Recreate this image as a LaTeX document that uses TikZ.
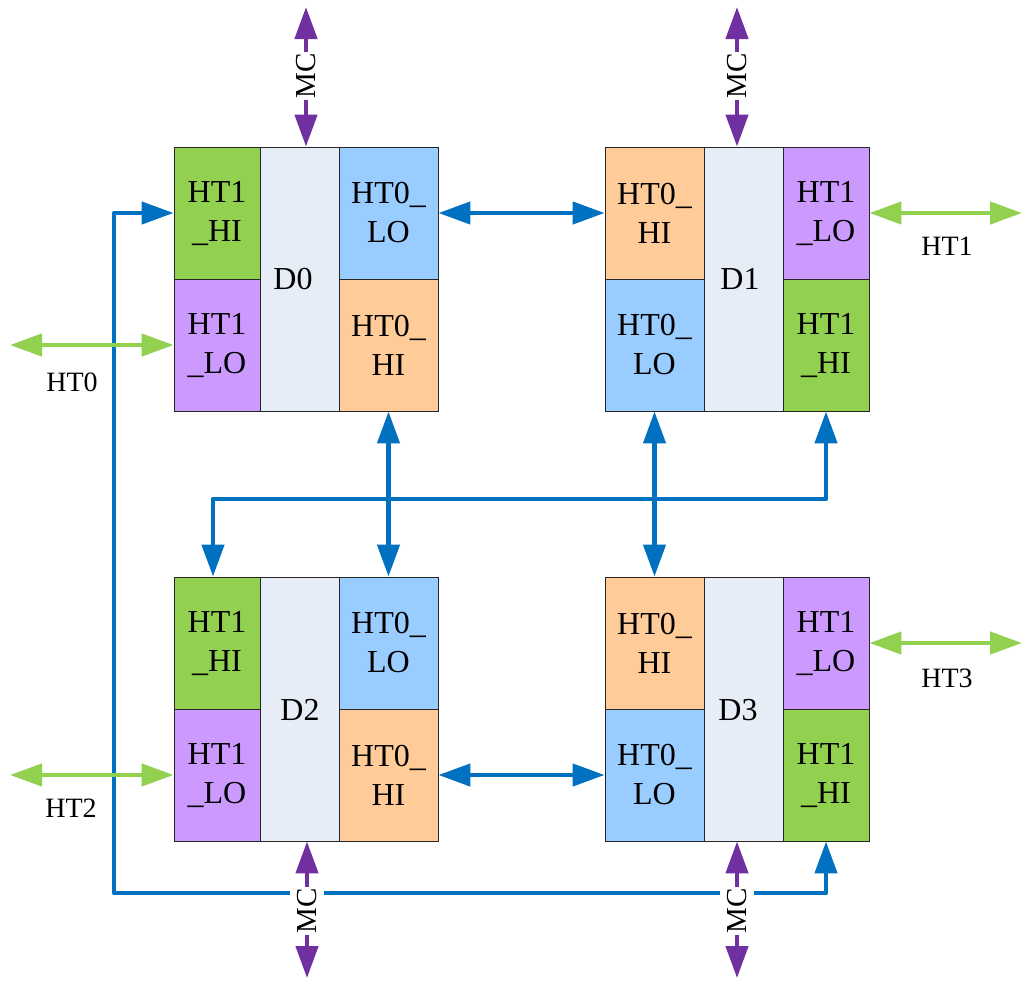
\documentclass[tikz,border=0pt]{standalone}
\usepackage{fontspec}
\setmainfont{Liberation Serif}
\usetikzlibrary{arrows.meta,calc}
\definecolor{cgreen}{HTML}{92D050}
\definecolor{cpurple}{HTML}{CC99FF}
\definecolor{cblue}{HTML}{99CCFF}
\definecolor{corange}{HTML}{FFCC99}
\definecolor{cmid}{HTML}{E7EDF7}
\definecolor{lblue}{HTML}{0070C0}
\definecolor{lpurple}{HTML}{7030A0}
\definecolor{lgreen}{HTML}{92D050}
\begin{document}
\begin{tikzpicture}[x=1pt,y=-1pt,
  cellbase/.style={draw=black!85, line width=0.9pt, inner sep=0pt, align=center,
    font=\fontsize{32}{39}\selectfont, minimum height=132pt},
  narrowcell/.style={cellbase, minimum width=86pt},
  widecell/.style={cellbase, minimum width=99pt},
  midcell/.style={draw=black!85, line width=0.9pt, inner sep=0pt, fill=cmid,
    minimum width=79pt, minimum height=264pt},
  dlabel/.style={font=\fontsize{32}{36}\selectfont, inner sep=0pt},
  extlabel/.style={font=\fontsize{28}{32}\selectfont, inner sep=0pt},
  mclabel/.style={font=\fontsize{29}{32}\selectfont, rotate=90, fill=white,
    inner xsep=1pt, inner ysep=7pt},
  tip/.tip={Triangle[length=32pt,width=22pt]},
  bus/.style={draw=lblue, line width=4.5pt, line join=round, tip-tip},
  gbus/.style={draw=lgreen, line width=4.5pt, tip-tip},
  pbus/.style={draw=lpurple, line width=4.5pt, tip-tip}]
\useasboundingbox (0,0) rectangle (1024,980);
\fill[white] (0,0) rectangle (1024,980);

% ---------- D0 ----------
\node[narrowcell, fill=cgreen]  (d0a) at (217,213) {HT1\\\_HI};
\node[narrowcell, fill=cpurple] (d0b) at (217,345) {HT1\\\_LO};
\node[midcell] (d0m) at (299.5,279) {};
\node[widecell, fill=cblue]   (d0c) at (388.5,213) {HT0\_\\LO};
\node[widecell, fill=corange] (d0d) at (388.5,345) {HT0\_\\HI};
\node[dlabel] (d0l) at (293,279) {D0};

% ---------- D1 ----------
\node[widecell, fill=corange] (d1a) at (654.5,213) {HT0\_\\HI};
\node[widecell, fill=cblue]   (d1b) at (654.5,345) {HT0\_\\LO};
\node[midcell] (d1m) at (743.5,279) {};
\node[narrowcell, fill=cpurple] (d1c) at (826,213) {HT1\\\_LO};
\node[narrowcell, fill=cgreen]  (d1d) at (826,345) {HT1\\\_HI};
\node[dlabel] (d1l) at (740,279) {D1};

% ---------- D2 ----------
\node[narrowcell, fill=cgreen]  (d2a) at (217,643) {HT1\\\_HI};
\node[narrowcell, fill=cpurple] (d2b) at (217,775) {HT1\\\_LO};
\node[midcell] (d2m) at (299.5,709) {};
\node[widecell, fill=cblue]   (d2c) at (388.5,643) {HT0\_\\LO};
\node[widecell, fill=corange] (d2d) at (388.5,775) {HT0\_\\HI};
\node[dlabel] (d2l) at (300,710) {D2};

% ---------- D3 ----------
\node[widecell, fill=corange] (d3a) at (654.5,643) {HT0\_\\HI};
\node[widecell, fill=cblue]   (d3b) at (654.5,775) {HT0\_\\LO};
\node[midcell] (d3m) at (743.5,709) {};
\node[narrowcell, fill=cpurple] (d3c) at (826,643) {HT1\\\_LO};
\node[narrowcell, fill=cgreen]  (d3d) at (826,775) {HT1\\\_HI};
\node[dlabel] (d3l) at (738,710) {D3};

% ---------- blue links ----------
\draw[bus] (d0c.east) -- (d1a.west);
\draw[bus] (d2d.east) -- (d3b.west);
\draw[bus] (d0d.south) -- (d2c.north);
\draw[bus] (d1b.south) -- (d3a.north);
\coordinate (jl) at (213,499);
\coordinate (jr) at (826,499);
\draw[bus] (jl |- d2a.north) -- (jl) -- (jr) -- (d1d.south);
\coordinate (lt) at (114,213);
\coordinate (lb) at (114,893);
\draw[bus] (d0a.west) -- (lt) -- (lb) -- (lb -| d3d.south) -- (d3d.south);

% ---------- green external links ----------
\coordinate (e0) at (10,345);
\coordinate (e1) at (1022,213);
\coordinate (e2) at (10,775);
\coordinate (e3) at (1022,643);
\draw[gbus] (e0) -- (d0b.west);
\draw[gbus] (d1c.east) -- (e1);
\draw[gbus] (e2) -- (d2b.west);
\draw[gbus] (d3c.east) -- (e3);
\node[extlabel] (l0) at (72,382) {HT0};
\node[extlabel] (l1) at (947,246) {HT1};
\node[extlabel] (l2) at (71,808) {HT2};
\node[extlabel] (l3) at (947,678) {HT3};

% ---------- purple MC links ----------
\coordinate (m0) at (306,7);
\coordinate (m1) at (737,7);
\coordinate (m2) at (307,978);
\coordinate (m3) at (737,978);
\draw[pbus] (m0) -- (m0 |- d0m.north);
\draw[pbus] (m1) -- (m1 |- d1m.north);
\draw[pbus] (m2 |- d2m.south) -- (m2);
\draw[pbus] (m3 |- d3m.south) -- (m3);
\node[mclabel] (mc0) at (306,76) {MC};
\node[mclabel] (mc1) at (737,76) {MC};
\node[mclabel] (mc2) at (307,911) {MC};
\node[mclabel] (mc3) at (737,911) {MC};
\end{tikzpicture}
\end{document}
